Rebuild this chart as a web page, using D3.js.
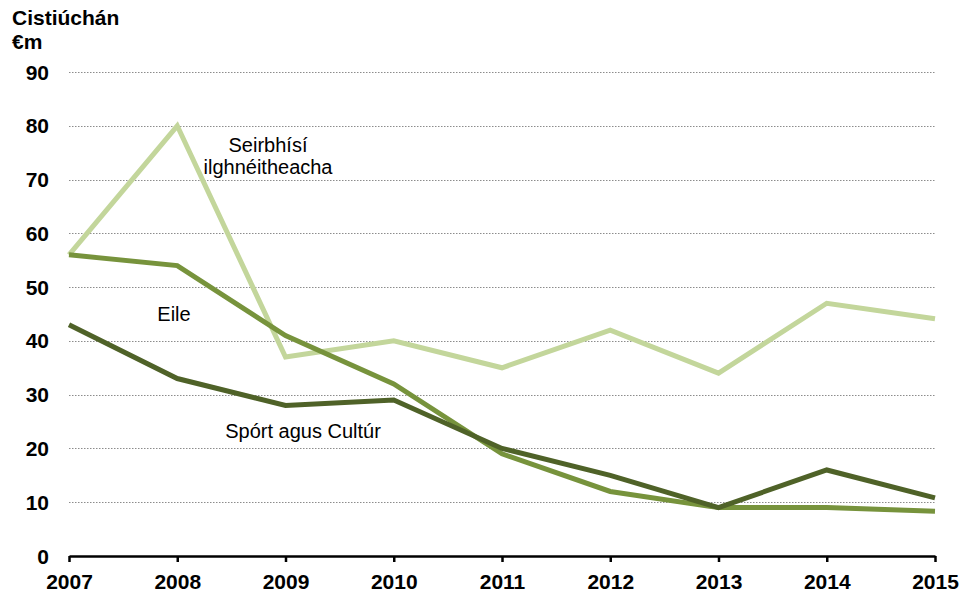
<!DOCTYPE html>
<html>
<head>
<meta charset="utf-8">
<script src="https://cdn.jsdelivr.net/npm/d3@7"></script>
<style>
	body { margin: 0; background: #fff; }
	text { font-family: 'Liberation Sans', Arial, sans-serif; }
	.tick-label { font-size: 21px; font-weight: bold; fill: #000; }
	.series-label { font-size: 20px; fill: #000; }
	.grid line { stroke: #8c8c8c; stroke-width: 1; stroke-dasharray: 1.5 1.5; }
</style>
</head>
<body>
<svg id="chart-svg" width="976" height="593"></svg>
<script>
const YEARS = [2007, 2008, 2009, 2010, 2011, 2012, 2013, 2014, 2015];
const Y_TICKS = [0, 10, 20, 30, 40, 50, 60, 70, 80, 90];
const SEIRBHISI = [56, 80, 37, 40, 35, 42, 34, 47, 44.1];
const EILE = [56, 54, 41, 32, 19, 12, 9, 9, 8.3];
const SPORT = [43, 33, 28, 29, 20, 15, 9, 16, 10.8];
const SERIES_NAMES = ['Seirbhísí ilghnéitheacha', 'Eile', 'Spórt agus Cultúr'];

const PADDING = { top: 72, bottom: 37, left: 69, right: 41 };
const svg = d3.select('#chart-svg');
const svgWidth = 976;
const svgHeight = 593;

const xScale = d3.scaleLinear().domain([2007, 2015]).range([PADDING.left, svgWidth - PADDING.right]);
const yScale = d3.scaleLinear().domain([0, 90]).range([svgHeight - PADDING.bottom, PADDING.top]);

// dotted gridlines
svg.append('g')
	.attr('class', 'grid')
	.selectAll('line')
	.data(Y_TICKS.filter((d) => d > 0))
	.enter()
	.append('line')
	.attr('x1', PADDING.left)
	.attr('x2', svgWidth - PADDING.right)
	.attr('y1', (d) => Math.round(yScale(d)) + 0.5)
	.attr('y2', (d) => Math.round(yScale(d)) + 0.5);

// y tick labels
svg.append('g')
	.selectAll('text')
	.data(Y_TICKS)
	.enter()
	.append('text')
	.attr('class', 'tick-label')
	.attr('x', 49)
	.attr('y', (d) => yScale(d) + 7.5)
	.attr('text-anchor', 'end')
	.text((d) => d);

// lines
const line = d3.line().x((d, i) => xScale(YEARS[i])).y((d) => yScale(d));
const seriesData = [
	{ values: SEIRBHISI, color: '#c3d69b' },
	{ values: EILE, color: '#77933c' },
	{ values: SPORT, color: '#4f6228' }
];
svg.append('g')
	.selectAll('path')
	.data(seriesData)
	.enter()
	.append('path')
	.attr('d', (d) => line(d.values))
	.attr('fill', 'none')
	.attr('stroke', (d) => d.color)
	.attr('stroke-width', 5)
	.attr('stroke-linejoin', 'miter');

// x axis
const xAxis = d3.axisBottom(xScale)
	.tickValues(YEARS)
	.tickFormat(d3.format('d'))
	.tickSize(6)
	.tickSizeOuter(0);
const xAxisG = svg.append('g')
	.attr('transform', 'translate(0, ' + (svgHeight - PADDING.bottom) + ')')
	.call(xAxis);
xAxisG.select('.domain').attr('stroke', '#000').attr('stroke-width', 2.5);
xAxisG.selectAll('.tick line').attr('stroke', '#000').attr('stroke-width', 2.5);
xAxisG.selectAll('.tick text')
	.attr('class', 'tick-label')
	.attr('y', 33)
	.attr('dy', 0)
	.style('font-family', "'Liberation Sans', Arial, sans-serif")
	.style('font-size', '21px')
	.style('font-weight', 'bold');

// axis title
svg.append('text').attr('class', 'tick-label').attr('x', 12).attr('y', 25).text('Cistiúchán');
svg.append('text').attr('class', 'tick-label').attr('x', 12).attr('y', 49).text('€m');

// series labels
svg.append('text').attr('class', 'series-label').attr('x', 268).attr('y', 152).attr('text-anchor', 'middle').text('Seirbhísí');
svg.append('text').attr('class', 'series-label').attr('x', 268).attr('y', 174).attr('text-anchor', 'middle').text('ilghnéitheacha');
svg.append('text').attr('class', 'series-label').attr('x', 174).attr('y', 321).attr('text-anchor', 'middle').text(SERIES_NAMES[1]);
svg.append('text').attr('class', 'series-label').attr('x', 303).attr('y', 438).attr('text-anchor', 'middle').text(SERIES_NAMES[2]);
</script>
</body>
</html>
